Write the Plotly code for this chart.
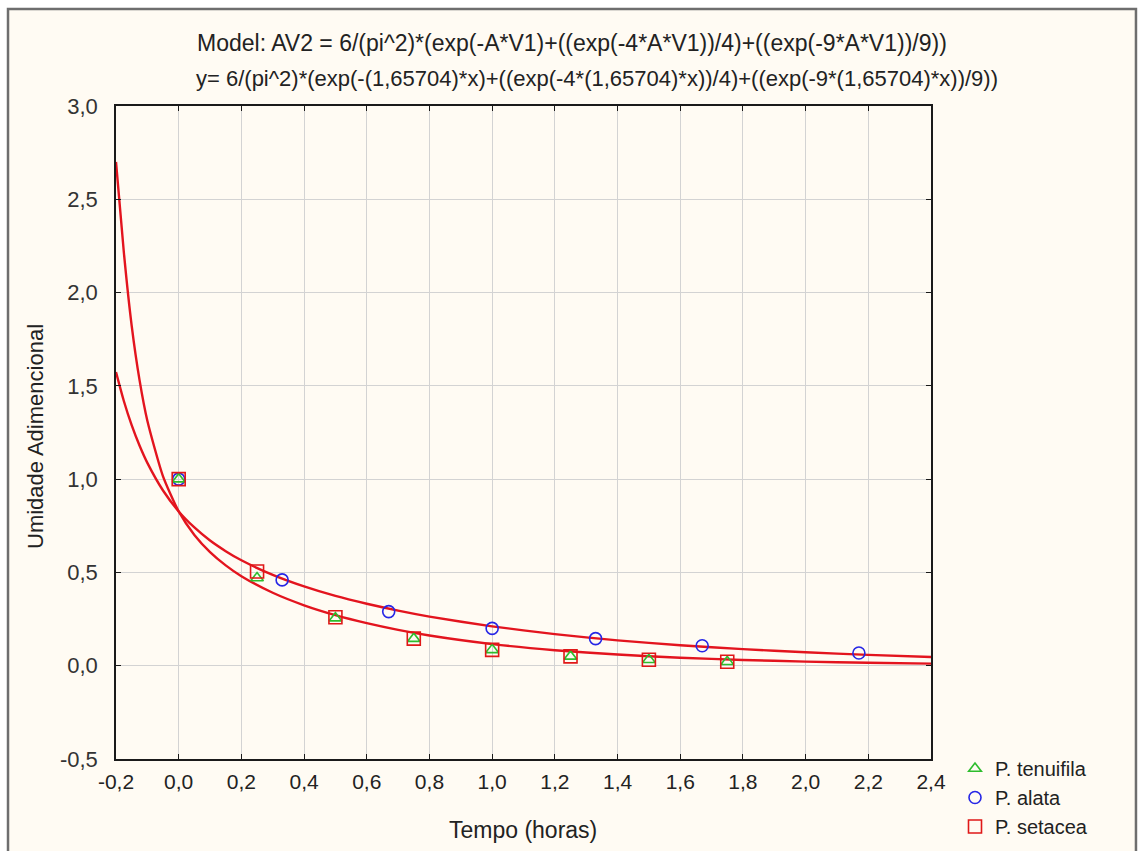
import plotly.graph_objects as go

# ---- data ----
tempo_ten = [0.0, 0.25, 0.5, 0.75, 1.0, 1.25, 1.5, 1.75]
um_ten = [1.0, 0.47, 0.255, 0.145, 0.085, 0.05, 0.032, 0.021]

tempo_set = [0.0, 0.25, 0.5, 0.75, 1.0, 1.25, 1.5, 1.75]
um_set = [1.0, 0.505, 0.26, 0.145, 0.085, 0.05, 0.032, 0.021]

tempo_ala = [0.0, 0.33, 0.67, 1.0, 1.33, 1.67, 2.17]
um_ala = [1.0, 0.46, 0.29, 0.20, 0.145, 0.107, 0.068]

# fitted model curves
curve_x = [-0.2, -0.175, -0.15, -0.125, -0.1, -0.05, 0.0, 0.05, 0.1, 0.15, 0.2, 0.3, 0.4, 0.5,
           0.6, 0.7, 0.8, 1.0, 1.2, 1.4, 1.6, 1.8, 2.0, 2.2, 2.4]
curve_fast = [2.70, 2.216, 1.823, 1.532, 1.313, 1.015, 0.827, 0.701, 0.609, 0.538, 0.480, 0.391,
              0.324, 0.271, 0.228, 0.192, 0.162, 0.116, 0.083, 0.060, 0.043, 0.031, 0.022,
              0.016, 0.011]
curve_slow = [1.574, 1.419, 1.289, 1.180, 1.087, 0.939, 0.827, 0.741, 0.671, 0.614, 0.565, 0.487,
              0.425, 0.374, 0.332, 0.295, 0.263, 0.211, 0.169, 0.136, 0.110, 0.089, 0.072,
              0.058, 0.047]

x_ticks = [-0.2, 0.0, 0.2, 0.4, 0.6, 0.8, 1.0, 1.2, 1.4, 1.6, 1.8, 2.0, 2.2, 2.4]
x_labels = ["-0,2", "0,0", "0,2", "0,4", "0,6", "0,8", "1,0", "1,2", "1,4", "1,6", "1,8",
            "2,0", "2,2", "2,4"]
y_ticks = [-0.5, 0.0, 0.5, 1.0, 1.5, 2.0, 2.5, 3.0]
y_labels = ["-0,5", "0,0", "0,5", "1,0", "1,5", "2,0", "2,5", "3,0"]

title1 = "Model: AV2 = 6/(pi^2)*(exp(-A*V1)+((exp(-4*A*V1))/4)+((exp(-9*A*V1))/9))"
title2 = "y= 6/(pi^2)*(exp(-(1,65704)*x)+((exp(-4*(1,65704)*x))/4)+((exp(-9*(1,65704)*x))/9))"

REG = "Liberation Sans, Arial, sans-serif"
TXT = "#222222"

fig = go.Figure()

for cy in (curve_slow, curve_fast):
    fig.add_trace(go.Scatter(x=curve_x, y=cy, mode="lines", line=dict(color="#e3141e", width=2.4,
                             shape="spline", smoothing=0.6), showlegend=False, hoverinfo="skip"))

fig.add_trace(go.Scatter(x=tempo_ala, y=um_ala, mode="markers", name="P. alata", legendrank=2,
                         marker=dict(symbol="circle-open", size=12, color="#2626e6",
                                     line=dict(width=1.6))))
fig.add_trace(go.Scatter(x=tempo_ten, y=um_ten, mode="markers", name="P. tenuifila", legendrank=1,
                         marker=dict(symbol="triangle-up-open", size=11, color="#2dbd2d",
                                     line=dict(width=1.6))))
fig.add_trace(go.Scatter(x=tempo_set, y=um_set, mode="markers", name="P. setacea", legendrank=3,
                         marker=dict(symbol="square-open", size=13, color="#e01818",
                                     line=dict(width=1.6))))

axis_common = dict(showline=True, linecolor="#1a1a1a", linewidth=1.5, mirror="ticks",
                   ticks="inside", ticklen=5, tickcolor="#1a1a1a", showgrid=True,
                   gridcolor="#d3d3d3", gridwidth=1, zeroline=False)

fig.update_xaxes(range=[-0.2, 2.4], tickvals=x_ticks, ticktext=x_labels,
                 tickfont=dict(family=REG, size=21, color=TXT), ticklabelstandoff=3,
                 **axis_common)
fig.update_yaxes(range=[-0.5, 3.0], tickvals=y_ticks, ticktext=y_labels,
                 tickfont=dict(family=REG, size=22, color="#333333"), ticklabelstandoff=12,
                 **axis_common)

fig.add_shape(type="rect", xref="paper", yref="paper", x0=-0.1325, x1=1.2515, y0=-0.2,
              y1=1.1485, line=dict(color="#6e6e6e", width=2.5), fillcolor="#fffbf3",
              layer="below")

fig.add_annotation(text=title1, xref="paper", yref="paper", x=(572 - 116) / 815,
                   y=(759 - 43) / 653, showarrow=False, xanchor="center", yanchor="middle",
                   font=dict(family=REG, size=23, color=TXT))
fig.add_annotation(text=title2, xref="paper", yref="paper", x=(597 - 116) / 815,
                   y=(759 - 78) / 653, showarrow=False, xanchor="center", yanchor="middle",
                   font=dict(family=REG, size=22, color=TXT))
fig.add_annotation(text="Tempo (horas)", xref="paper", yref="paper", x=(523 - 116) / 815,
                   y=(759 - 830) / 653, showarrow=False, xanchor="center", yanchor="middle",
                   font=dict(family=REG, size=23, color=TXT))
fig.add_annotation(text="Umidade Adimencional", xref="paper", yref="paper", x=(35 - 116) / 815,
                   y=(759 - 437) / 653, showarrow=False, xanchor="center", yanchor="middle",
                   textangle=-90, font=dict(family=REG, size=22, color=TXT))

fig.update_layout(
    width=1139, height=851,
    margin=dict(l=116, r=208, t=106, b=92, autoexpand=False),
    paper_bgcolor="white", plot_bgcolor="white",
    showlegend=True,
    legend=dict(x=(955 - 116) / 815, y=(759 - 749) / 653, xanchor="left", yanchor="top",
                bgcolor="rgba(0,0,0,0)", font=dict(family=REG, size=20, color=TXT),
                traceorder="normal"),
)

fig.write_html("out.html")
